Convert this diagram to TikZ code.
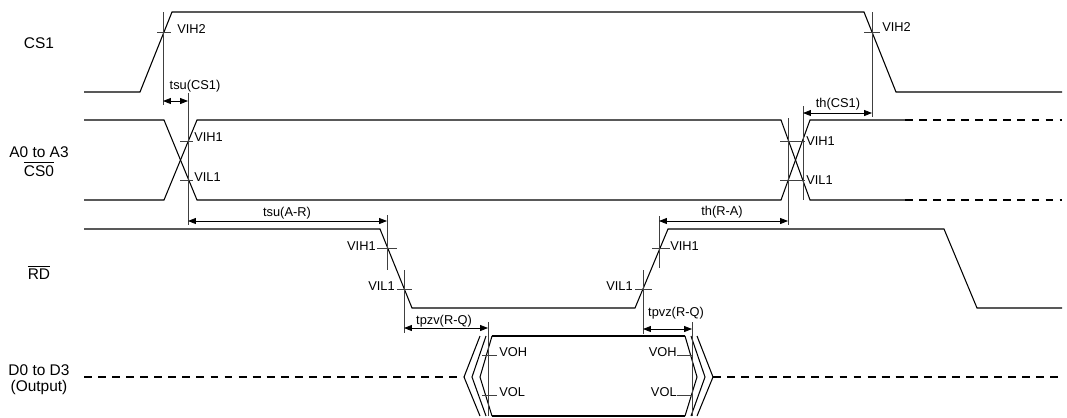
\documentclass[tikz,border=0pt]{standalone}
\usepackage{fontspec}
\setmainfont{Liberation Sans}
\usetikzlibrary{arrows.meta}
\tikzset{
  sig/.style={line width=0.6pt, line join=miter},
  fut/.style={sig, dash pattern=on 4.5pt off 3.5pt},
  refl/.style={line width=0.45pt, black!75},
  dim/.style={line width=0.45pt,
    {Triangle[length=4.5pt,width=3.4pt]}-{Triangle[length=4.5pt,width=3.4pt]}},
  lvl/.style={font=\fontsize{7.3}{8}\selectfont, inner sep=0pt},
  signame/.style={font=\fontsize{8.8}{9.2}\selectfont, inner sep=0pt, align=center},
}

\begin{document}
\begin{tikzpicture}[x=0.02cm, y=-0.02cm]
\useasboundingbox (0,0) rectangle (1067,417);

% signal names
\node[signame] (ncs1) at (39,43) {CS1};
\node[signame] (nadr) at (39,152) {A0 to A3};
\node[signame] (ncs0) at (39,169) {$\overline{\mbox{CS0}}$};
\node[signame] (nrd) at (39,272) {$\overline{\mbox{RD}}$};
\node[signame] (ndat) at (39,380) {D0 to D3\\(Output)};

% CS1
\draw[sig] (84,92) -- (140,92) -- (172,12) -- (864,12) -- (896,92) -- (1062,92);

% A0 to A3, CS0
\draw[sig] (84,120) -- (164,120) -- (197,200) -- (781,200) -- (810,120) -- (905,120);
\draw[sig] (84,200) -- (164,200) -- (197,120) -- (781,120) -- (810,200) -- (905,200);
\draw[fut] (905,120) -- (1062,120);
\draw[fut] (905,200) -- (1062,200);

% RD
\draw[sig] (84,229) -- (380,229) -- (412,308) -- (635,308) -- (668,229)
  -- (944,229) -- (977,308) -- (1062,308);

% D0 to D3
\draw[fut] (84,377) -- (464,377);
\foreach \t/\e in {464/480, 472/486, 480/492} {
  \draw[sig] (\e,336) -- (\t,377) -- (\e,416);
}
\foreach \t/\e in {697/685, 705/691, 713/697} {
  \draw[sig] (\e,336) -- (\t,377) -- (\e,416);
}
\draw[sig] (492,336) -- (685,336);
\draw[sig] (492,416) -- (685,416);
\draw[fut] (713,377) -- (1062,377);

% reference lines
\coordinate (a1) at (163,101);
\coordinate (a2) at (188,101);
\coordinate (b1) at (803,113);
\coordinate (b2) at (872,113);
\coordinate (c1) at (188,221);
\coordinate (c2) at (387,221);
\coordinate (d1) at (659,221);
\coordinate (d2) at (788,221);
\coordinate (e1) at (404,328);
\coordinate (e2) at (488,328);
\coordinate (f1) at (643,329);
\coordinate (f2) at (692,329);

\draw[refl] (163,12) -- (163,105);
\draw[refl] (188,93) -- (188,225);
\draw[refl] (788,118) -- (788,225);
\draw[refl] (803,106) -- (803,200);
\draw[refl] (872,12) -- (872,117);
\draw[refl] (387,215) -- (387,270);
\draw[refl] (404,270) -- (404,333);
\draw[refl] (643,270) -- (643,334);
\draw[refl] (659,216) -- (659,268);
\draw[refl] (488,322) -- (488,416);
\draw[refl] (692,322) -- (692,416);

% level ticks
\draw[refl] (157,32) -- (171,32) (864,32) -- (880,32);
\draw[refl] (180,141) -- (193,141) (180,180) -- (193,180);
\draw[refl] (780,141) -- (805,141) (780,180) -- (805,180);
\draw[refl] (377,248) -- (397,248) (397,289) -- (412,289);
\draw[refl] (635,289) -- (652,289) (652,248) -- (670,248);
\draw[refl] (482,355) -- (497,355) (482,395) -- (497,395);
\draw[refl] (677,355) -- (693,355) (677,395) -- (693,395);

% level labels
\node[lvl, anchor=west] (vh2a) at (177,29) {VIH2};
\node[lvl, anchor=west] (vh2b) at (882,27) {VIH2};
\node[lvl, anchor=west] (vh1a) at (194,137) {VIH1};
\node[lvl, anchor=west] (vl1a) at (194,177) {VIL1};
\node[lvl, anchor=west] (vh1b) at (806,141) {VIH1};
\node[lvl, anchor=west] (vl1b) at (806,180) {VIL1};
\node[lvl, anchor=east] (vh1c) at (376,246) {VIH1};
\node[lvl, anchor=east] (vl1c) at (395,286) {VIL1};
\node[lvl, anchor=east] (vl1d) at (633,286) {VIL1};
\node[lvl, anchor=west] (vh1d) at (670,246) {VIH1};
\node[lvl, anchor=west] (voha) at (499,352) {VOH};
\node[lvl, anchor=west] (vola) at (499,392) {VOL};
\node[lvl, anchor=east] (vohb) at (677,352) {VOH};
\node[lvl, anchor=east] (volb) at (677,392) {VOL};

% timing arrows
\draw[dim] (a1) -- (a2);
\draw[dim] (b1) -- (b2);
\draw[dim] (c1) -- (c2);
\draw[dim] (d1) -- (d2);
\draw[dim] (e1) -- (e2);
\draw[dim] (f1) -- (f2);
\node[lvl] (tsucs) at (195,86) {tsu(CS1)};
\node[lvl] (thcs) at (838,104) {th(CS1)};
\node[lvl] (tsuar) at (287,213) {tsu(A-R)};
\node[lvl] (thra) at (722,212) {th(R-A)};
\node[lvl] (tpzv) at (444,321) {tpzv(R-Q)};
\node[lvl] (tpvz) at (676,313) {tpvz(R-Q)};

\end{tikzpicture}
\end{document}
